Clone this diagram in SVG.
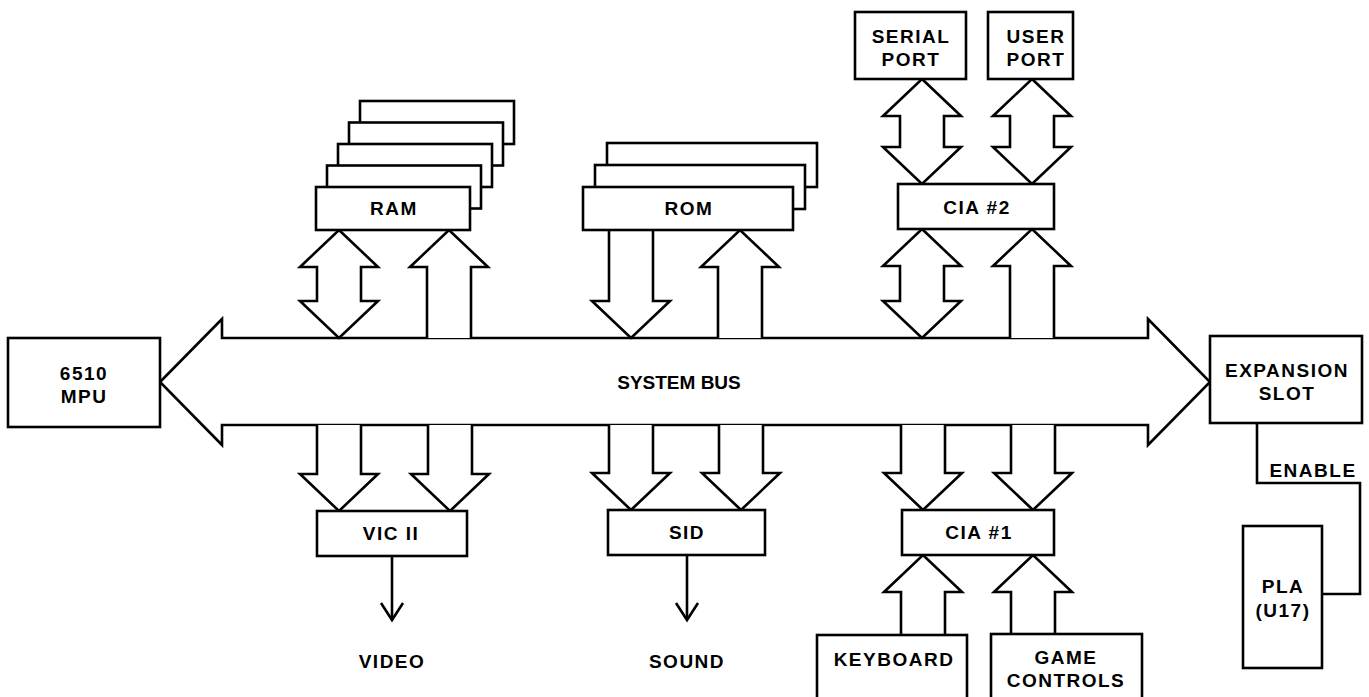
<svg xmlns="http://www.w3.org/2000/svg" width="1369" height="697" viewBox="0 0 1369 697">
<style>
.b{fill:#fff;stroke:#000;stroke-width:2.6}
.a{fill:#fff;stroke:#000;stroke-width:2.6;stroke-linejoin:miter}
.l{fill:none;stroke:#000;stroke-width:2.6}
text{font-family:"Liberation Sans",Arial,Helvetica,sans-serif;font-weight:bold;font-size:19px;letter-spacing:1.5px;text-anchor:middle;fill:#000}
</style>
<rect width="1369" height="697" fill="#fff"/>
<g id="connectors">
<polygon class="a" points="160,382 222,319 222,338 1148,338 1148,319 1210,382 1148,445 1148,425 222,425 222,445"/>
<polygon class="a" points="339,230 378,267 361,267 361,301 378,301 339,338 300,301 317,301 317,267 300,267"/>
<polyline class="a" points="427,338 427,267 410,267 449,230 488,267 471,267 471,338"/>
<polyline class="a" points="609,230 609,301 592,301 631,338 670,301 653,301 653,230"/>
<polyline class="a" points="718,338 718,267 701,267 740,230 779,267 762,267 762,338"/>
<polygon class="a" points="922,229 961,266 944,266 944,301 961,301 922,338 883,301 900,301 900,266 883,266"/>
<polyline class="a" points="1010,338 1010,266 993,266 1032,229 1071,266 1054,266 1054,338"/>
<polygon class="a" points="922,79 961,116 944,116 944,147 961,147 922,184 883,147 900,147 900,116 883,116"/>
<polygon class="a" points="1032,79 1071,116 1054,116 1054,147 1071,147 1032,184 993,147 1010,147 1010,116 993,116"/>
<polyline class="a" points="317,425 317,474 300,474 339,511 378,474 361,474 361,425"/>
<polyline class="a" points="428,425 428,474 411,474 450,511 489,474 472,474 472,425"/>
<polyline class="a" points="609,425 609,473 592,473 631,510 670,473 653,473 653,425"/>
<polyline class="a" points="719,425 719,473 702,473 741,510 780,473 763,473 763,425"/>
<polyline class="a" points="901,425 901,473 884,473 923,510 962,473 945,473 945,425"/>
<polyline class="a" points="1011,425 1011,473 994,473 1033,510 1072,473 1055,473 1055,425"/>
<polyline class="a" points="901,634 901,592 884,592 923,555 962,592 945,592 945,634"/>
<polyline class="a" points="1011,634 1011,592 994,592 1033,555 1072,592 1055,592 1055,634"/>
<line class="l" x1="392" y1="556" x2="392" y2="619"/>
<polyline class="l" points="381,603 392,620 403,603"/>
<line class="l" x1="687" y1="555" x2="687" y2="619"/>
<polyline class="l" points="676,603 687,620 698,603"/>
<polyline class="l" points="1257,423 1257,483 1360,483 1360,594 1322,594"/>
<text x="1313" y="477">ENABLE</text>
<text x="679" y="389" style="letter-spacing:0">SYSTEM BUS</text>
</g>
<g id="mpu"><rect class="b" x="8" y="338" width="152" height="89"/><text x="84" y="380">6510</text><text x="84" y="403">MPU</text></g>
<g id="expansion"><rect class="b" x="1210" y="336" width="152" height="87"/><text x="1287" y="377">EXPANSION</text><text x="1287" y="400">SLOT</text></g>
<g id="pla"><rect class="b" x="1243" y="526" width="79" height="142"/><text x="1283" y="593">PLA</text><text x="1283" y="617">(U17)</text></g>
<g id="ram">
<rect class="b" x="360" y="101" width="154" height="43"/>
<rect class="b" x="349" y="122.5" width="154" height="43"/>
<rect class="b" x="338" y="144" width="154" height="43"/>
<rect class="b" x="327" y="165.5" width="154" height="43"/>
<rect class="b" x="316" y="187" width="154" height="43"/>
<text x="394" y="215">RAM</text></g>
<g id="rom">
<rect class="b" x="607" y="143" width="210" height="44"/>
<rect class="b" x="595" y="165" width="210" height="44"/>
<rect class="b" x="583" y="187" width="210" height="43"/>
<text x="689" y="215">ROM</text></g>
<g id="cia2"><rect class="b" x="898" y="184" width="156" height="45"/><text x="977" y="214">CIA #2</text></g>
<g id="serial"><rect class="b" x="855" y="12" width="111" height="67"/><text x="911" y="43">SERIAL</text><text x="911" y="66">PORT</text></g>
<g id="user"><rect class="b" x="988" y="12" width="85" height="67"/><text x="1036" y="43">USER</text><text x="1036" y="66">PORT</text></g>
<g id="vic"><rect class="b" x="317" y="511" width="150" height="45"/><text x="391" y="540">VIC II</text></g>
<g id="sid"><rect class="b" x="608" y="510" width="157" height="45"/><text x="687" y="539">SID</text></g>
<g id="cia1"><rect class="b" x="902" y="510" width="152" height="45"/><text x="979" y="539">CIA #1</text></g>
<g id="keyboard"><rect class="b" x="817" y="635" width="150" height="70"/><text x="894" y="666">KEYBOARD</text></g>
<g id="game"><rect class="b" x="991" y="634" width="151" height="70"/><text x="1066" y="664">GAME</text><text x="1066" y="687">CONTROLS</text></g>
<g id="labels"><text x="392" y="668">VIDEO</text><text x="687" y="668">SOUND</text></g>
</svg>
